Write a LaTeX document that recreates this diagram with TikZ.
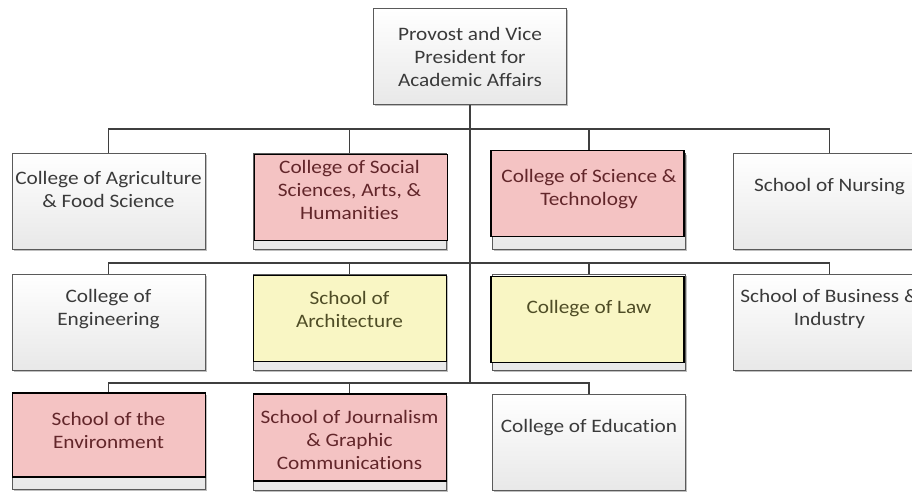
\documentclass[tikz,border=0pt]{standalone}
\usepackage{fontspec}
\setmainfont[FakeStretch=1.12,Ligatures=NoCommon]{Carlito}
\usetikzlibrary{shadows}

\definecolor{hipink}{HTML}{F4C3C3}
\definecolor{hiyellow}{HTML}{F9F6C4}
\definecolor{boxline}{HTML}{5A5A5A}
\definecolor{wirecol}{HTML}{3F3F3F}
\definecolor{txtgray}{HTML}{3A3A3A}
\definecolor{txtred}{HTML}{62262A}
\definecolor{txtolive}{HTML}{4F4D26}

\tikzset{
	unit/.style={draw=boxline,line width=1pt,top color=white,bottom color=black!9,
		minimum width=193pt,minimum height=96pt,inner sep=0pt,
		drop shadow={shadow xshift=1.5pt,shadow yshift=-1.5pt,opacity=0.25,fill=black},
		align=center,text=txtgray,font=\fontsize{19}{23}\selectfont},
	utext/.style={align=center,text=txtgray,font=\fontsize{19}{23}\selectfont,inner sep=0pt},
	hilite/.style={draw=black,line width=1.8pt},
	wire/.style={draw=wirecol,line width=1.2pt},
}

\begin{document}
\begin{tikzpicture}[x=1pt,y=-1pt]
	\useasboundingbox (0,0) rectangle (912,492);
	\clip (0,0) rectangle (912,492);
	
	% boxes
	\node[unit] (provost) at (470,57) {Provost and Vice\\President for\\Academic Affairs};
	
	\node[unit] (agri) at (108.5,201) {};
	\node[unit] (social) at (349.5,201) {};
	\node[unit] (scitech) at (589,201) {};
	\node[unit] (nursing) at (829.5,201) {};
	
	\node[unit] (engr) at (108.5,322) {};
	\node[unit] (arch) at (349.5,322) {};
	\node[unit] (law) at (589,322) {};
	\node[unit] (business) at (829.5,322) {};
	
	\node[unit] (env) at (108.5,441.5) {};
	\node[unit] (journ) at (349.5,442.5) {};
	\node[unit] (educ) at (589,442.5) {};
	
	% wires
	\coordinate (bus1) at (470,129);
	\coordinate (bus2) at (470,263);
	\coordinate (bus3) at (470,383);
	\draw[wire] (provost.south) -- (bus3);
	\draw[wire] (agri.north) |- (bus1) -| (nursing.north);
	\draw[wire] (social.north) -- (social.north |- bus1);
	\draw[wire] (scitech.north) -- (scitech.north |- bus1);
	\draw[wire] (engr.north) |- (bus2) -| (business.north);
	\draw[wire] (arch.north) -- (arch.north |- bus2);
	\draw[wire] (law.north) -- (law.north |- bus2);
	\draw[wire] (env.north) |- (bus3) -| (educ.north);
	\draw[wire] (journ.north) -- (journ.north |- bus3);
	
	% highlights
	\draw[hilite,fill=hipink] ([shift={(2,2)}]social.north west) rectangle ([shift={(1,-9)}]social.south east);
	\draw[hilite,fill=hipink] ([shift={(-1,-2)}]scitech.north west) rectangle ([shift={(-2,-13)}]scitech.south east);
	\draw[hilite,fill=hiyellow] ([shift={(1,2)}]arch.north west) rectangle ([shift={(0,-9)}]arch.south east);
	\draw[hilite,fill=hiyellow] ([shift={(-1,3)}]law.north west) rectangle ([shift={(-2,-8)}]law.south east);
	\draw[hilite,fill=hipink] ([shift={(1,0)}]env.north west) rectangle ([shift={(0,-13)}]env.south east);
	\draw[hilite,fill=hipink] ([shift={(1,0)}]journ.north west) rectangle ([shift={(0,-10)}]journ.south east);
	
	% texts
	\node[utext] (agri-t) at ([yshift=-37pt]agri.north) {College of Agriculture\\\& Food Science};
	\node[utext,text=txtred] (social-t) at ([yshift=-37pt]social.north) {College of Social\\Sciences, Arts, \&\\Humanities};
	\node[utext,text=txtred] (scitech-t) at ([yshift=-37pt]scitech.north) {College of Science \&\\Technology};
	\node[utext] (nursing-t) at ([yshift=-34pt]nursing.north) {School of Nursing};
	
	\node[utext] (engr-t) at ([yshift=-36pt]engr.north) {College of\\Engineering};
	\node[utext,text=txtolive] (arch-t) at ([yshift=-36pt]arch.north) {School of\\Architecture};
	\node[utext,text=txtolive] (law-t) at ([yshift=-35pt]law.north) {College of Law};
	\node[utext] (business-t) at ([yshift=-35pt]business.north) {School of Business \&\\Industry};
	
	\node[utext,text=txtred] (env-t) at ([yshift=-37pt]env.north) {School of the\\Environment};
	\node[utext,text=txtred] (journ-t) at ([yshift=-46pt]journ.north) {School of Journalism\\\& Graphic\\Communications};
	\node[utext] (educ-t) at ([yshift=-34pt]educ.north) {College of Education};
\end{tikzpicture}
\end{document}
